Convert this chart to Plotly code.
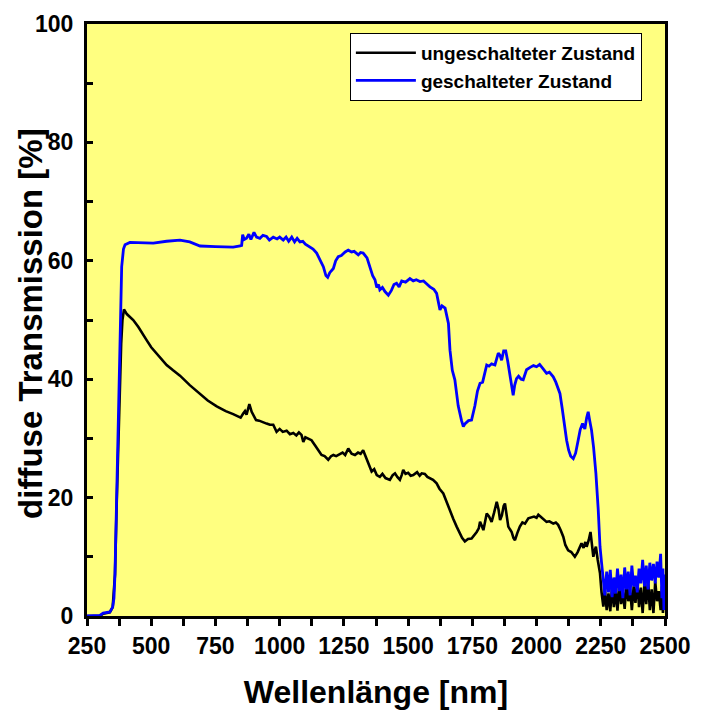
import plotly.graph_objects as go

# Wellenlänge [nm] und diffuse Transmission [%]
wl_ungeschaltet = [
    250, 300, 313, 339, 350, 359, 365, 372, 378, 383, 388, 394, 405, 430, 450, 469, 482, 500,
    521, 534, 560, 585, 612, 650, 690, 720, 755, 790, 819, 848, 858, 865, 871, 877, 882, 891,
    900, 908, 920, 930, 949, 962, 975, 988, 1000, 1012, 1027, 1040, 1053, 1065, 1075, 1085,
    1092, 1100, 1112, 1124, 1138, 1150, 1163, 1175, 1189, 1200, 1209, 1220, 1235, 1245, 1255,
    1267, 1280, 1293, 1305, 1315, 1325, 1338, 1348, 1358, 1368, 1378, 1390, 1400, 1412, 1429,
    1440, 1449, 1458, 1468, 1475, 1481, 1490, 1500, 1510, 1520, 1535, 1545, 1553, 1565, 1575,
    1585, 1597, 1611, 1622, 1637, 1650, 1663, 1676, 1689, 1700, 1710, 1721, 1733, 1747, 1757,
    1767, 1775, 1780, 1787, 1793, 1800, 1806, 1815, 1825, 1835, 1845, 1852, 1858, 1865, 1872,
    1877, 1883, 1890, 1897, 1903, 1910, 1916, 1925, 1935, 1945, 1955, 1968, 1980, 1990, 2000,
    2007, 2015, 2025, 2039, 2050, 2065, 2075, 2084, 2094, 2104, 2112, 2123, 2135, 2149, 2160,
    2168, 2175, 2183, 2190, 2195, 2203, 2210, 2215, 2221, 2226, 2231, 2238, 2247, 2253, 2260,
    2266, 2273, 2280, 2287, 2294, 2301, 2308, 2315, 2322, 2329, 2336, 2343, 2350, 2357, 2364,
    2371, 2378, 2385, 2392, 2399, 2406, 2413, 2420, 2427, 2434, 2441, 2448, 2455, 2462, 2469,
    2476, 2483, 2488, 2492, 2496, 2500,
]
t_ungeschaltet = [
    0, 0, 0.4, 0.6, 1.5, 7.0, 18, 29, 40, 46, 50, 51.8, 51.0, 50.0, 48.8, 47.6, 46.6, 45.4,
    44.4, 43.6, 42.4, 41.5, 40.6, 39.0, 37.6, 36.4, 35.4, 34.6, 34.1, 33.5, 34.2, 34.6, 34.0, 35.0, 35.8, 34.5,
    33.6, 33.1, 33.0, 32.8, 32.5, 32.3, 32.3, 31.1, 31.6, 31.1, 31.3, 30.7, 30.9, 30.5, 31.0, 30.6,
    29.4, 30.2, 30.0, 29.7, 28.8, 28.0, 27.2, 27.0, 26.4, 27.0, 27.2, 27.0, 27.4, 27.6, 27.2,
    28.3, 27.4, 27.2, 27.6, 27.4, 28.0, 26.6, 25.8, 24.4, 24.8, 23.8, 23.5, 24.0, 23.3, 23.0,
    23.8, 24.1, 23.5, 23.0, 23.8, 24.7, 24.0, 24.2, 23.7, 23.8, 24.3, 23.7, 24.1, 24.0, 23.5,
    23.3, 23.0, 22.4, 21.5, 20.7, 19.2, 17.9, 16.4, 15.1, 14.0, 13.2, 12.6, 13.0, 13.1, 13.6,
    14.2, 14.8, 15.9, 15.2, 14.5, 16.0, 17.3, 16.8, 15.9, 17.5, 19.3, 18.0, 16.2, 17.0, 18.6,
    19.0, 17.5, 15.1, 14.6, 14.2, 13.2, 12.8, 14.0, 15.1, 15.8, 15.6, 16.5, 16.6, 16.8, 16.6,
    17.1, 16.8, 16.4, 15.9, 16.0, 15.6, 15.8, 15.4, 14.5, 13.4, 12.0, 11.1, 10.8, 10.0, 10.8,
    11.6, 12.3, 11.5, 12.5, 11.7, 12.8, 14.2, 12.0, 10.0, 11.0, 11.7, 9.5, 7.2, 4.0, 1.6,
    4.5, 1.0, 3.8, 0.8, 5.0, 1.5, 4.2, 0.9, 5.5, 2.0, 4.0, 1.2, 5.8, 2.5, 4.6,
    1.0, 5.0, 2.2, 6.0, 1.5, 4.8, 0.5, 5.5, 2.0, 6.2, 1.0, 4.5, 0.5, 5.8, 2.5,
    4.2, 1.0, 5.0, 0.5, 3.5, 1.0,
]

wl_geschaltet = [
    250, 280, 300, 313, 339, 350, 355, 359, 365, 372, 376, 381, 385, 392, 398, 417, 460, 508,
    560, 612, 650, 690, 750, 819, 846, 852, 856, 862, 871, 880, 888, 900, 910, 923, 935, 949,
    960, 975, 990, 1000, 1014, 1025, 1035, 1047, 1058, 1068, 1079, 1090, 1100, 1118, 1130, 1144,
    1158, 1170, 1180, 1187, 1195, 1209, 1218, 1228, 1240, 1255, 1267, 1280, 1290, 1306, 1315,
    1325, 1340, 1352, 1362, 1371, 1378, 1385, 1390, 1400, 1410, 1423, 1435, 1445, 1455, 1465,
    1475, 1490, 1507, 1520, 1532, 1546, 1560, 1575, 1585, 1600, 1611, 1624, 1632, 1644, 1657,
    1663, 1672, 1682, 1695, 1708, 1715, 1722, 1735, 1747, 1760, 1770, 1780, 1790, 1800, 1806,
    1815, 1825, 1838, 1845, 1851, 1858, 1864, 1872, 1880, 1888, 1896, 1903, 1909, 1915, 1922,
    1930, 1940, 1948, 1955, 1961, 1975, 1988, 2000, 2012, 2025, 2039, 2050, 2065, 2075, 2091,
    2100, 2110, 2117, 2125, 2133, 2143, 2152, 2162, 2170, 2179, 2188, 2195, 2201, 2207, 2214,
    2222, 2231, 2240, 2247, 2253, 2260,
    2266, 2273, 2280, 2287, 2294, 2301, 2308, 2315, 2322, 2329, 2336, 2343, 2350, 2357, 2364,
    2371, 2378, 2385, 2392, 2399, 2406, 2413, 2420, 2427, 2434, 2441, 2448, 2455, 2462, 2469,
    2476, 2483, 2488, 2492, 2496, 2500,
]
t_geschaltet = [
    0, 0, 0.1, 0.5, 0.7, 1.5, 3, 7.2, 18.5, 29.7, 41, 48, 59, 62, 62.7, 63.1, 63.0, 63.0,
    63.3, 63.5, 63.2, 62.5, 62.4, 62.3, 62.5, 62.6, 64.4, 63.6, 63.8, 64.5, 63.6, 64.8, 64.0, 63.8, 64.3, 64.1,
    63.5, 64.0, 63.7, 64.0, 63.5, 64.0, 63.3, 64.0, 63.2, 63.8, 63.2, 63.3, 62.8, 62.4, 62.0, 61.3,
    60.2, 59.0, 57.5, 57.2, 58.0, 58.7, 60.0, 60.7, 60.9, 61.5, 61.8, 61.5, 61.6, 61.0, 61.4,
    61.3, 60.5, 59.0, 57.5, 56.8, 55.5, 56.0, 55.1, 55.5, 54.8, 54.2, 55.0, 56.0, 56.2, 55.6,
    56.6, 56.4, 57.0, 56.6, 56.8, 56.5, 56.6, 56.0, 55.6, 55.2, 54.5, 51.7, 52.4, 52.0, 49.4,
    44.9, 41.5, 39.9, 35.5, 33.0, 32.0, 32.5, 33.0, 33.1, 35.5, 38.0, 39.3, 39.5, 41.5, 42.4,
    42.2, 42.6, 42.4, 43.5, 44.4, 44.0, 43.2, 44.8, 44.8, 43.0, 41.0, 39.0, 37.3, 39.0, 40.1,
    40.5, 40.0, 39.9, 40.8, 41.6, 42.0, 42.3, 42.1, 42.5, 41.8, 41.0, 41.2, 40.4, 39.5, 37.6,
    35.0, 31.5, 29.7, 28.0, 27.0, 26.6, 27.5, 29.7, 31.5, 32.5, 31.6, 33.5, 34.5, 33.0, 31.4,
    28.5, 24.1, 18.0, 11.7, 9.0, 6.5,
    3.5, 7.5, 4.0, 7.8, 3.2, 6.5, 3.8, 8.0, 4.2, 7.0, 3.0, 8.2, 4.5, 7.5, 3.5,
    8.5, 5.0, 6.8, 4.0, 8.0, 5.5, 9.5, 5.0, 8.5, 4.5, 9.0, 6.0, 8.8, 5.5, 9.2,
    6.5, 10.5, 3.0, 8.0, 1.0, 7.0,
]

x_ticks = [250, 500, 750, 1000, 1250, 1500, 1750, 2000, 2250, 2500]
y_ticks = [0, 20, 40, 60, 80, 100]

bold = dict(family="Liberation Sans, Arial, sans-serif", color="black", weight="bold")

fig = go.Figure()
fig.add_trace(go.Scatter(x=wl_ungeschaltet, y=t_ungeschaltet, mode="lines",
                         name="ungeschalteter Zustand", line=dict(color="black", width=2.6)))
fig.add_trace(go.Scatter(x=wl_geschaltet, y=t_geschaltet, mode="lines",
                         name="geschalteter Zustand", line=dict(color="#0000ff", width=2.8)))

# die Seite hat 8px Rand, daher 700x705
fig.update_layout(
    width=700, height=705,
    margin=dict(l=79, r=43, t=16, b=97, autoexpand=False),
    paper_bgcolor="white", plot_bgcolor="#ffff80",
    font=dict(**bold, size=23),
    legend=dict(x=0.96, y=0.985, xanchor="right", yanchor="top",
                bgcolor="white", bordercolor="black", borderwidth=1,
                itemwidth=60, tracegroupgap=0,
                font=dict(**bold, size=19)),
)
fig.add_annotation(text="diffuse Transmission [%]", xref="paper", yref="paper",
                   x=-0.097, y=0.495, xanchor="center", yanchor="middle",
                   textangle=-90, showarrow=False, font=dict(**bold, size=33))
fig.update_xaxes(
    range=[250, 2500], tickvals=x_ticks, showgrid=False, zeroline=False,
    showline=True, linecolor="black", linewidth=3, mirror=True,
    ticks="outside", ticklen=7, tickwidth=3, tickcolor="black",
    minor=dict(dtick=125, ticks="outside", ticklen=7, tickwidth=3, tickcolor="black"),
    tickfont=dict(**bold, size=23),
    title=dict(text="Wellenlänge [nm]", font=dict(**bold, size=32), standoff=24),
)
fig.update_yaxes(
    range=[0, 100], tickvals=y_ticks, showgrid=False, zeroline=False,
    showline=True, linecolor="black", linewidth=3, mirror=True,
    ticks="inside", ticklen=6, tickwidth=3, tickcolor="black",
    minor=dict(dtick=10, ticks="inside", ticklen=6, tickwidth=3, tickcolor="black"),
    tickfont=dict(**bold, size=23), ticklabelstandoff=6,
)

fig.write_html("out.html")
